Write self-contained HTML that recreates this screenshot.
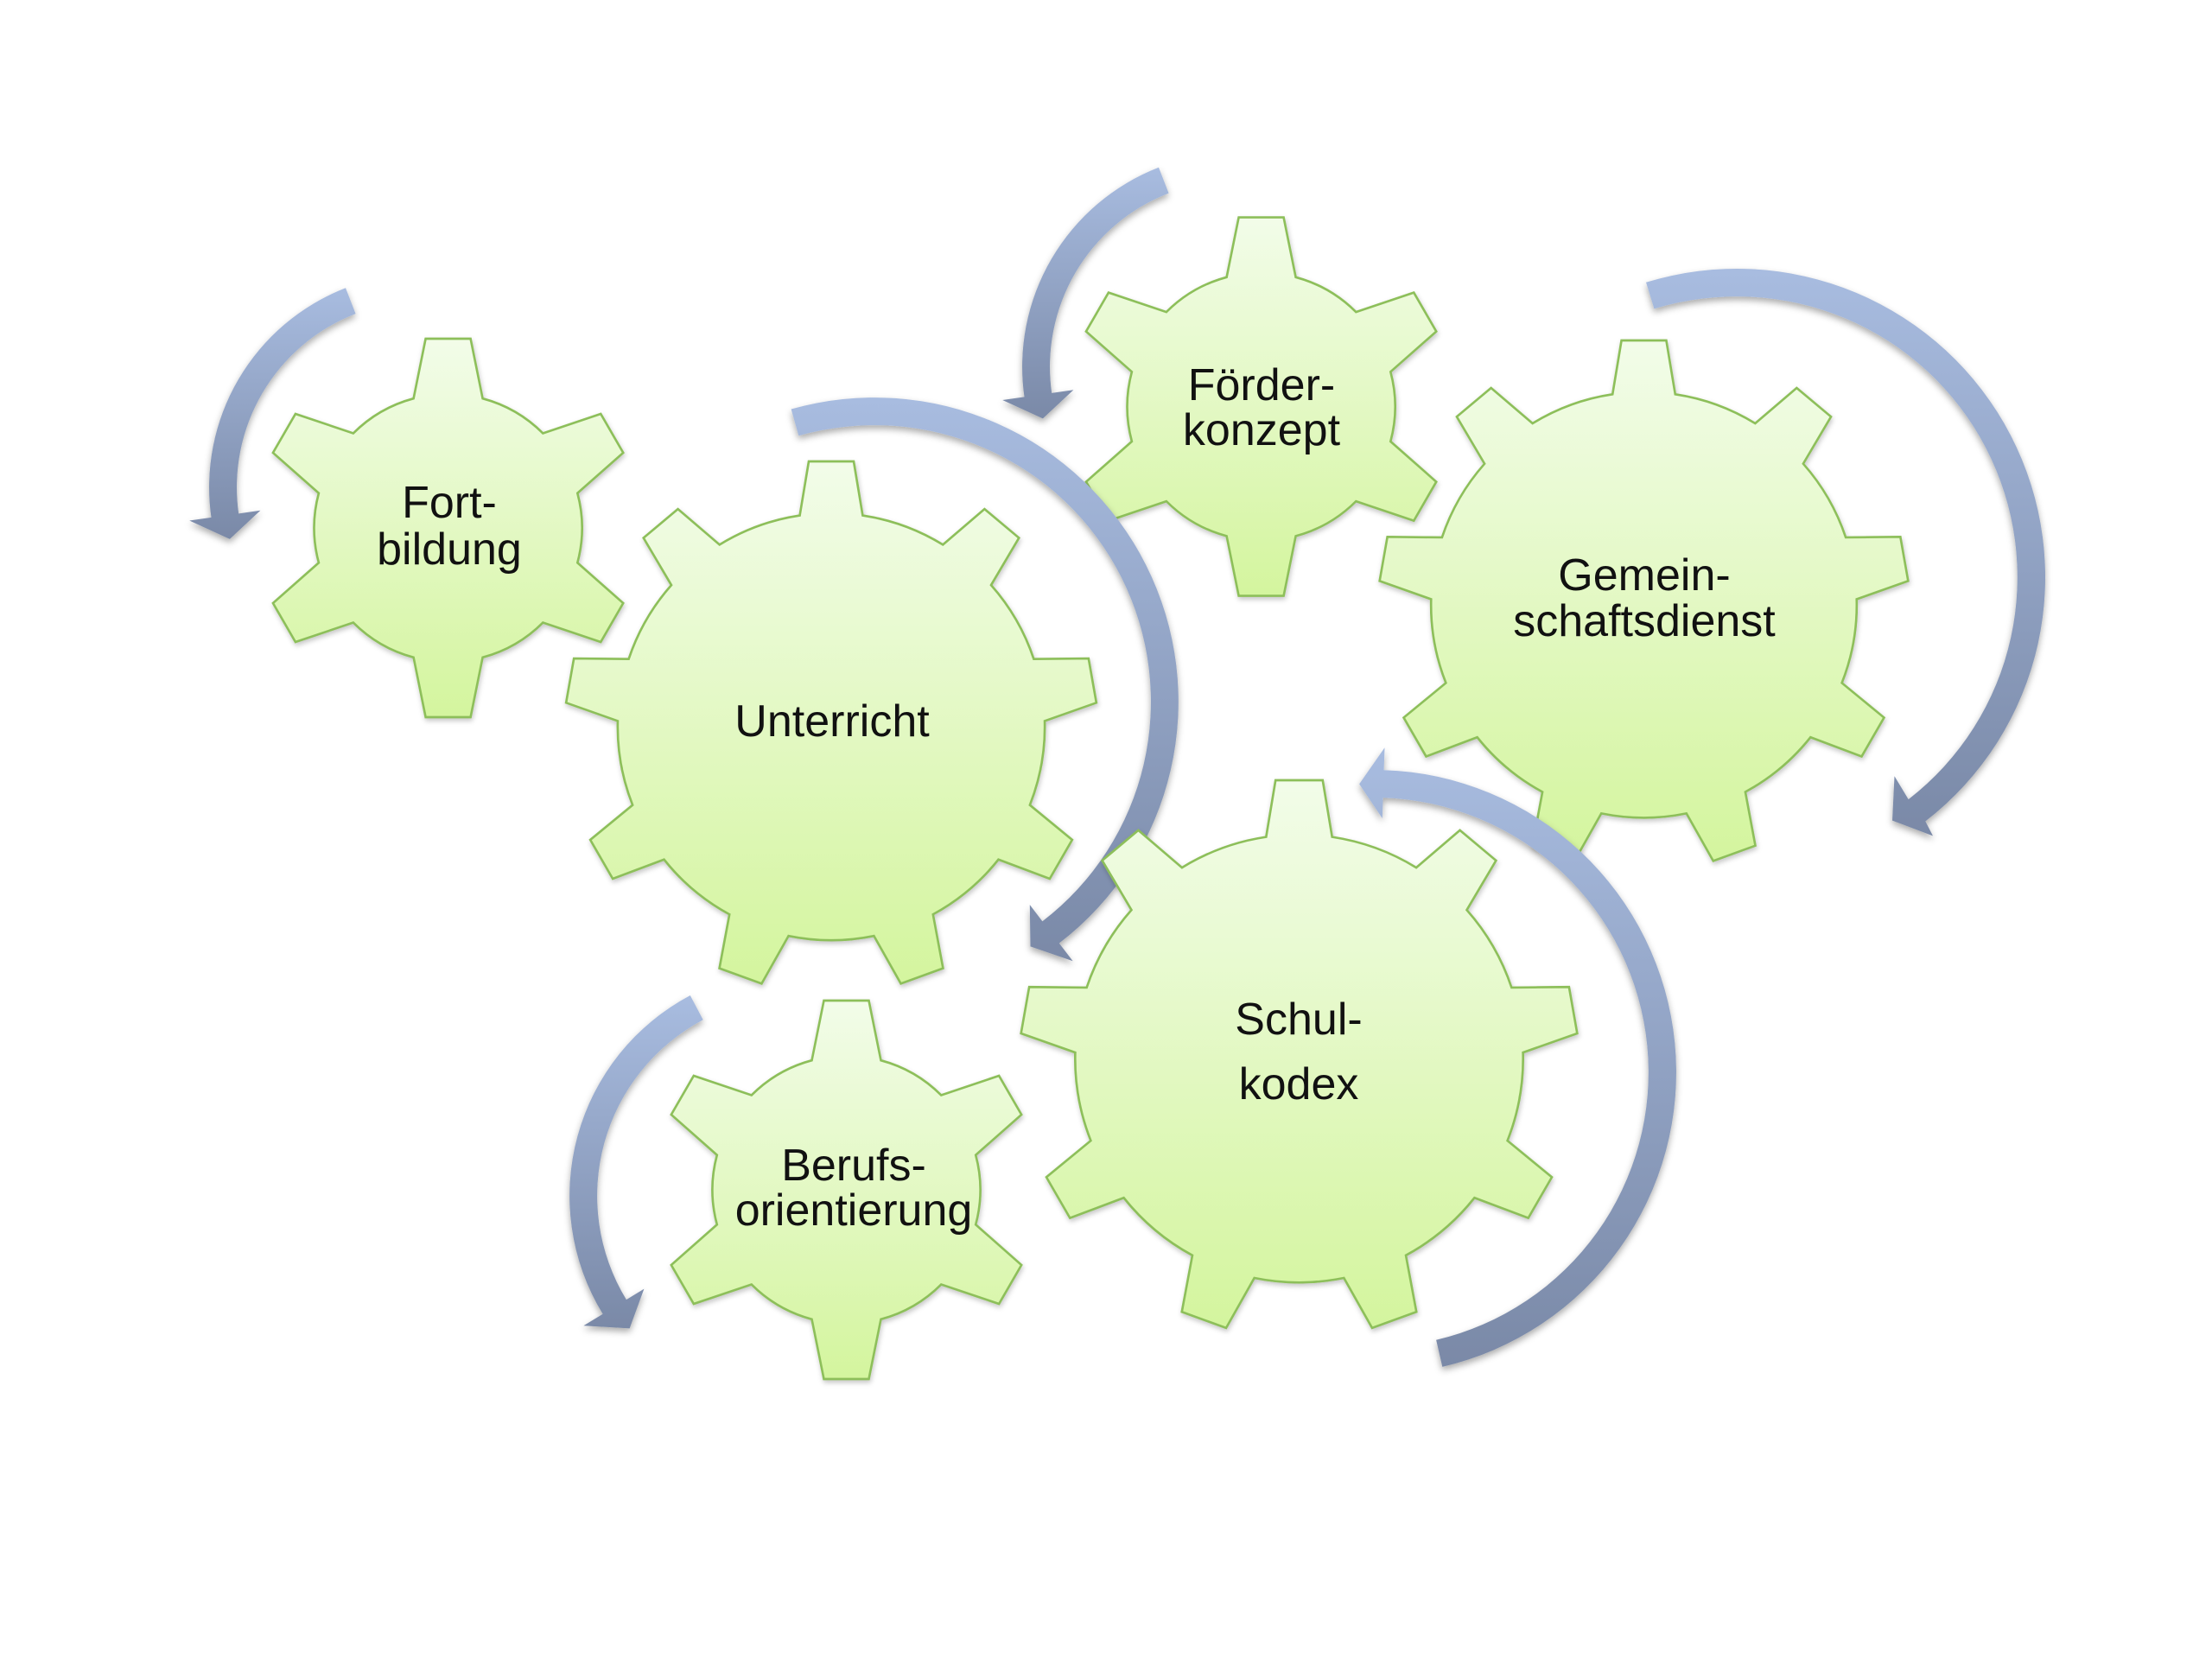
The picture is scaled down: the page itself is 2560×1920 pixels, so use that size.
<!DOCTYPE html>
<html>
<head>
<meta charset="utf-8">
<style>
html,body{margin:0;padding:0;background:#ffffff;}
svg{display:block;}
</style>
</head>
<body>
<svg width="2560" height="1920" viewBox="0 0 2560 1920" xmlns="http://www.w3.org/2000/svg">
<defs>
  <linearGradient id="gg" x1="0" y1="0" x2="0" y2="1">
    <stop offset="0" stop-color="#f2fce9"/>
    <stop offset="1" stop-color="#d4f59e"/>
  </linearGradient>
  <linearGradient id="ag" x1="0" y1="0" x2="0" y2="1">
    <stop offset="0" stop-color="#a8bce0"/>
    <stop offset="1" stop-color="#7a89a7"/>
  </linearGradient>
  <filter id="gs" x="-10%" y="-10%" width="125%" height="125%">
    <feDropShadow dx="1" dy="3" stdDeviation="3" flood-color="#000" flood-opacity="0.22"/>
  </filter>
  <filter id="as" x="-15%" y="-15%" width="130%" height="130%">
    <feDropShadow dx="0" dy="4" stdDeviation="4" flood-color="#000" flood-opacity="0.33"/>
  </filter>
  <path id="g6" d="M-0.1826,-0.684L-0.1187,-1L0.1187,-1L0.1826,-0.684A0.708,0.708 0 0 1 0.501,-0.5001L0.8066,-0.6028L0.9254,-0.3972L0.6836,-0.1839A0.708,0.708 0 0 1 0.6836,0.1839L0.9254,0.3972L0.8066,0.6028L0.501,0.5001A0.708,0.708 0 0 1 0.1826,0.684L0.1187,1L-0.1187,1L-0.1826,0.684A0.708,0.708 0 0 1 -0.501,0.5001L-0.8066,0.6028L-0.9254,0.3972L-0.6836,0.1839A0.708,0.708 0 0 1 -0.6836,-0.1839L-0.9254,-0.3972L-0.8066,-0.6028L-0.501,-0.5001A0.708,0.708 0 0 1 -0.1826,-0.684Z"/>
  <path id="g9" d="M-0.1186,-0.7962L-0.0847,-1L0.0847,-1L0.1186,-0.7962A0.805,0.805 0 0 1 0.421,-0.6861L0.5779,-0.8204L0.7077,-0.7116L0.6026,-0.5337A0.805,0.805 0 0 1 0.7635,-0.255L0.9701,-0.257L0.9995,-0.0902L0.8047,-0.0214A0.805,0.805 0 0 1 0.7488,0.2954L0.9084,0.4266L0.8236,0.5734L0.6302,0.5008A0.805,0.805 0 0 1 0.3837,0.7076L0.4216,0.9107L0.2624,0.9687L0.1609,0.7888A0.805,0.805 0 0 1 -0.1609,0.7888L-0.2624,0.9687L-0.4216,0.9107L-0.3837,0.7076A0.805,0.805 0 0 1 -0.6302,0.5008L-0.8236,0.5734L-0.9084,0.4266L-0.7488,0.2954A0.805,0.805 0 0 1 -0.8047,-0.0214L-0.9995,-0.0902L-0.9701,-0.257L-0.7635,-0.255A0.805,0.805 0 0 1 -0.6026,-0.5337L-0.7077,-0.7116L-0.5779,-0.8204L-0.421,-0.6861A0.805,0.805 0 0 1 -0.1186,-0.7962Z"/>
  <path id="a1" d="M400.0,333.3 A247.5,247.5 0 0 0 244.5,598.9 L219.2,602.5 L265.9,623.9 L301.4,590.8 L276.2,594.4 A215.5,215.5 0 0 1 411.6,363.1 Z"/>
</defs>

<!-- Gears (below arrows) -->
<g filter="url(#gs)">
  <use href="#g6" transform="translate(518.6,611) scale(219)" fill="url(#gg)" stroke="#8dbf5a" stroke-width="0.012"/>
</g>
<g filter="url(#gs)">
  <use href="#g6" transform="translate(1459.6,470.6) scale(219)" fill="url(#gg)" stroke="#8dbf5a" stroke-width="0.012"/>
</g>
<g filter="url(#gs)">
  <use href="#g9" transform="translate(962,841) scale(307)" fill="url(#gg)" stroke="#8dbf5a" stroke-width="0.0086"/>
</g>
<g filter="url(#gs)">
  <use href="#g9" transform="translate(1902.5,700) scale(306)" fill="url(#gg)" stroke="#8dbf5a" stroke-width="0.0086"/>
</g>
<g filter="url(#gs)">
  <use href="#g6" transform="translate(979.5,1377) scale(219)" fill="url(#gg)" stroke="#8dbf5a" stroke-width="0.012"/>
</g>

<!-- Arrows -->
<g filter="url(#as)">
  <use href="#a1" fill="url(#ag)"/>
</g>
<g filter="url(#as)">
  <use href="#a1" transform="translate(941,-139.5)" fill="url(#ag)"/>
</g>
<g filter="url(#as)">
  <path fill="url(#ag)" d="M915.6,473.5 A352,352 0 0 1 1225.8,1091.6 L1241.6,1112.3 L1192.5,1095.4 L1191.8,1047.1 L1206.4,1066.2 A320,320 0 0 0 924.3,504.3 Z"/>
</g>
<g filter="url(#as)">
  <path fill="url(#ag)" d="M1905.0,326.8 A357,357 0 0 1 2228.3,950.5 L2237,967.4 L2190,949.6 L2192.5,898.2 L2208.7,925.1 A325,325 0 0 0 1914.4,357.4 Z"/>
</g>
<g filter="url(#as)">
  <path fill="url(#ag)" d="M1669.3,1581.9 A350,350 0 0 0 1601.6,891.2 L1602.5,865.2 L1573.1,907.4 L1599.8,947.1 L1600.6,923.2 A318,318 0 0 1 1662.1,1550.7 Z"/>
</g>
<g filter="url(#as)">
  <path fill="url(#ag)" d="M798.8,1152.0 A262.5,262.5 0 0 0 697.6,1520.8 L675.4,1534.3 L728.7,1537.4 L745.4,1491.6 L724.9,1504.1 A230.5,230.5 0 0 1 813.7,1180.3 Z"/>
</g>

<!-- Schulkodex gear (above Unterricht arrow) -->
<g filter="url(#gs)">
  <use href="#g9" transform="translate(1503.5,1225) scale(322)" fill="url(#gg)" stroke="#8dbf5a" stroke-width="0.0082"/>
</g>

<!-- Labels -->
<g font-family="'Liberation Sans', Arial, sans-serif" font-size="52" fill="#111111" text-anchor="middle">
  <text x="520" y="599">Fort-</text>
  <text x="520" y="653">bildung</text>

  <text x="1460" y="463">Förder-</text>
  <text x="1460" y="515">konzept</text>

  <text x="963" y="852">Unterricht</text>

  <text x="1903" y="683">Gemein-</text>
  <text x="1903" y="736">schaftsdienst</text>

  <text x="1503" y="1197">Schul-</text>
  <text x="1503" y="1272">kodex</text>

  <text x="988" y="1366">Berufs-</text>
  <text x="988" y="1418">orientierung</text>
</g>
</svg>
</body>
</html>
